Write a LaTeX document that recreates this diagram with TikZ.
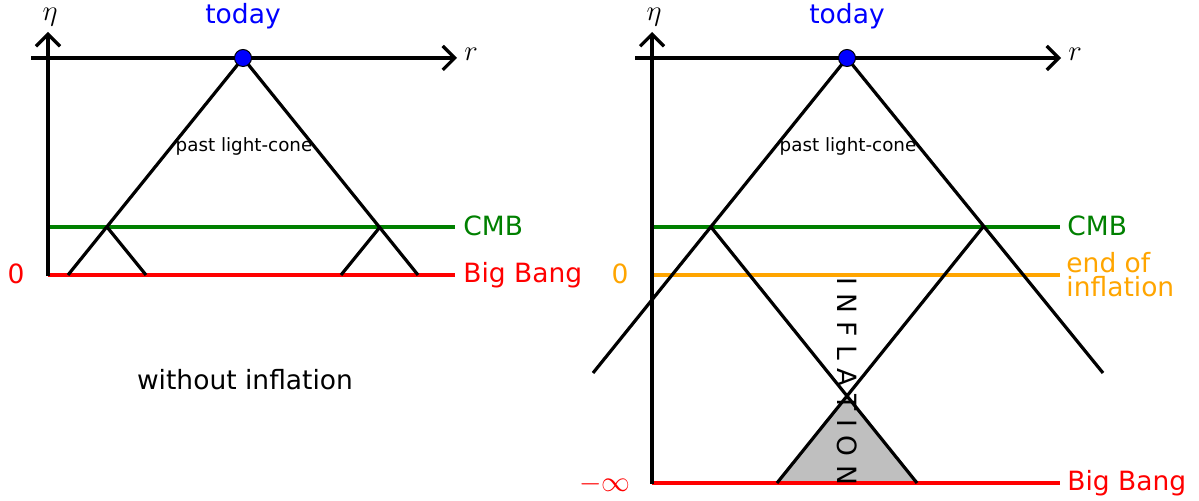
\documentclass[tikz,border=0pt]{standalone}
\usepackage{fontspec}
\setmainfont{DejaVu Sans}
\usetikzlibrary{arrows.meta}
\definecolor{mpgreen}{RGB}{0,128,0}
\definecolor{mporange}{RGB}{255,165,0}
\definecolor{mpgray}{RGB}{191,191,191}
\begin{document}
\begin{tikzpicture}[x=0.5pt,y=-0.5pt,
  line/.style={line width=1.6pt},
  cline/.style={line width=1.6pt},
  axis/.style={line width=1.6pt,-{Straight Barb[length=6pt,width=12pt]}},
  lab/.style={font=\fontsize{13.25}{12}\selectfont, inner sep=0pt},
  mlab/.style={font=\fontsize{15.5}{16}\selectfont, inner sep=0pt},
  small/.style={font=\fontsize{9.15}{11}\selectfont, inner sep=0pt},
  dot/.style={circle, fill=blue, draw=black, line width=0.5pt, minimum size=8.5pt, inner sep=0pt}
  ]
\useasboundingbox (0,0) rectangle (1199,501);

% ---------- left panel ----------
\coordinate (T1) at (243,58);
\coordinate (A1) at (107,227);
\coordinate (B1) at (380,227);
\coordinate (L1) at (68,275);
\coordinate (R1) at (418,275);
\coordinate (A1r) at (146,275);
\coordinate (B1l) at (341,275);
\coordinate (g1s) at (48,227);
\coordinate (g1e) at (455,227);
\coordinate (r1s) at (48,275);
\coordinate (r1e) at (455,275);
\coordinate (ax1b) at (48,276);
\coordinate (ax1t) at (48,32);
\coordinate (ay1s) at (31,58);
\coordinate (ay1e) at (457,58);

\draw[cline, mpgreen] (g1s) -- (g1e);
\draw[cline, red] (r1s) -- (r1e);
\draw[axis] (ax1b) -- (ax1t);
\draw[axis] (ay1s) -- (ay1e);
\draw[line] (L1) -- (T1) -- (R1);
\draw[line] (A1) -- (A1r);
\draw[line] (B1) -- (B1l);
\node[dot] (dot1) at (T1) {};

\node[lab, text=blue, anchor=base] (today1) at (243,24) {today};
\node[small, anchor=base] (plc1) at (244,152) {past light-cone};
\node[lab, anchor=base] (wo) at (245,390) {without inflation};
\node[lab, text=mpgreen, anchor=base west] (cmb1) at (463,236) {CMB};
\node[lab, text=red, anchor=base west] (bb1) at (463,283) {Big Bang};
\node[lab, text=red, anchor=base] (zero1) at (16,284) {0};
\node[mlab, anchor=base] (eta1) at (50,21) {$\eta$};
\node[mlab, anchor=base] (rr1) at (471,61) {$r$};

% ---------- right panel ----------
\coordinate (T2) at (847,58);
\coordinate (LL2) at (593,373);
\coordinate (RR2) at (1103,373);
\coordinate (A2) at (711,227);
\coordinate (B2) at (983,227);
\coordinate (X2) at (847,396);
\coordinate (P2) at (777,483);
\coordinate (Q2) at (917,483);
\coordinate (g2s) at (652,227);
\coordinate (g2e) at (1060,227);
\coordinate (o2s) at (652,275);
\coordinate (o2e) at (1060,275);
\coordinate (r2s) at (652,483);
\coordinate (r2e) at (1060,483);
\coordinate (ax2b) at (652,484);
\coordinate (ax2t) at (652,32);
\coordinate (ay2s) at (635,58);
\coordinate (ay2e) at (1061,58);

\fill[mpgray] (X2) -- (P2) -- (Q2) -- cycle;
\draw[cline, mpgreen] (g2s) -- (g2e);
\draw[cline, mporange] (o2s) -- (o2e);
\draw[cline, red] (r2s) -- (r2e);
\draw[axis] (ax2b) -- (ax2t);
\draw[axis] (ay2s) -- (ay2e);
\draw[line] (LL2) -- (T2) -- (RR2);
\draw[line] (A2) -- (X2) -- (Q2);
\draw[line] (B2) -- (X2) -- (P2);
\node[dot] (dot2) at (T2) {};

\node[lab, text=blue, anchor=base] (today2) at (847,24) {today};
\node[small, anchor=base] (plc2) at (848,152) {past light-cone};
\node[lab, text=mpgreen, anchor=base west] (cmb2) at (1067,236) {CMB};
\node[lab, text=mporange, anchor=west, align=left] (eoi) at (1066,275) {end of\\inflation};
\node[lab, text=red, anchor=base west] (bb2) at (1067,491) {Big Bang};
\node[lab, text=mporange, anchor=base] (zero2) at (620,284) {0};
\node[lab, text=red] (minf) at (605,484) {$-\infty$};
\node[mlab, anchor=base] (eta2) at (654,21) {$\eta$};
\node[mlab, anchor=base] (rr2) at (1075,61) {$r$};
\node[lab, rotate=-90] (infl) at (847,381) {I N F L A T I O N};
\end{tikzpicture}
\end{document}
